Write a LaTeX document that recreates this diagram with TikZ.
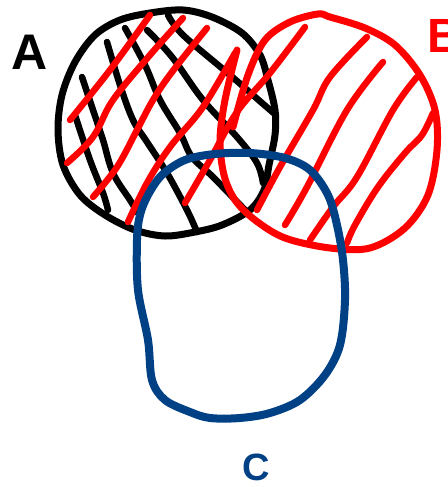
\documentclass[tikz,border=0pt]{standalone}
\usepackage{fontspec}
\setsansfont{Liberation Sans}
\begin{document}
\begin{tikzpicture}[x=1pt,y=-1pt,line cap=round,line join=round,
  blackline/.style={draw=black,line width=6.5pt},
  redline/.style={draw=red,line width=6.5pt},
  blueline/.style={draw={rgb,255:red,0;green,64;blue,133},line width=8pt},
  lbl/.style={font=\sffamily\bfseries\fontsize{#1}{#1}\selectfont,inner sep=0pt}]
\useasboundingbox (0,0) rectangle (447,487);
\clip (0,0) rectangle (447,487);
\definecolor{cblue}{RGB}{0,64,133}
% black hatching
\draw[blackline] plot[smooth,tension=0.6] coordinates {(75,115) (90,160) (103,193) (108,210)};
\draw[blackline] plot[smooth,tension=0.6] coordinates {(82,77) (93,110) (103,140) (113,173) (130,200) (138,213)};
\draw[blackline] plot[smooth,tension=0.6] coordinates {(107,42) (120,85) (133,120) (147,142) (167,173) (187,210) (197,232)};
\draw[blackline] plot[smooth,tension=0.6] coordinates {(125,28) (145,65) (160,100) (180,133) (192,157) (213,177) (245,210)};
\draw[blackline] plot[smooth,tension=0.6] coordinates {(147,30) (172,57) (203,100) (237,137) (257,163) (263,183)};
\draw[blackline] plot[smooth,tension=0.6] coordinates {(168,15) (183,35) (230,75) (262,103) (276,115)};
% black circle A
\draw[blackline,line width=7pt] plot[smooth cycle,tension=0.55] coordinates {(150,13) (183,10) (212,17) (242,33) (260,55) (268,80) (275,110) (275,135) (269,165) (264,190) (250,210) (222,225) (195,232) (165,236) (135,230) (105,215) (80,195) (63,165) (58,130) (62,95) (75,62) (95,35) (120,20)};
% red hatching
\draw[redline] plot[smooth,tension=0.6] coordinates {(70,120) (110,70) (150,15)};
\draw[redline] plot[smooth,tension=0.6] coordinates {(67,163) (93,137) (113,100) (150,55) (183,18)};
\draw[redline] plot[smooth,tension=0.6] coordinates {(93,197) (117,167) (137,130) (153,100) (172,72) (207,28)};
\draw[redline] plot[smooth,tension=0.6] coordinates {(128,222) (147,183) (170,147) (203,107) (235,53)};
\draw[redline] plot[smooth,tension=0.6] coordinates {(185,203) (210,160) (237,112) (270,73) (305,27)};
\draw[redline] plot[smooth,tension=0.6] coordinates {(257,210) (280,167) (313,110) (330,77) (367,37)};
\draw[redline] plot[smooth,tension=0.6] coordinates {(285,225) (307,187) (347,110) (383,62)};
\draw[redline] plot[smooth,tension=0.6] coordinates {(310,240) (333,207) (357,177) (393,110) (417,77)};
\draw[redline] plot[smooth,tension=0.6] coordinates {(347,243) (355,225) (378,187) (405,153) (422,135) (433,113)};
% red circle B
\draw[redline,line width=7pt] plot[smooth,tension=0.55] coordinates {(237,50) (225,100) (220,140) (224,175) (235,200) (255,220) (285,238) (330,248) (370,248) (405,228) (428,195) (437,150) (435,110) (420,75) (395,45) (365,28) (330,17) (318,14) (290,22) (265,40) (248,75) (233,127)};
% blue shape C
\draw[blueline] plot[smooth cycle,tension=0.55] coordinates {(137,240) (138,290) (148,340) (152,380) (165,400) (190,412) (210,418) (240,418) (270,413) (300,400) (325,375) (340,345) (345,300) (343,260) (337,225) (328,195) (310,170) (285,158) (250,153) (215,154) (185,160) (162,175) (148,195) (140,215)};
% labels
\node[lbl=50,text=black] (A) at (30,52) {A};
\node[lbl=48,text=red,anchor=west] (B) at (427,36) {B};
\node[lbl=38,text=cblue] (C) at (256,467) {C};
\end{tikzpicture}
\end{document}
